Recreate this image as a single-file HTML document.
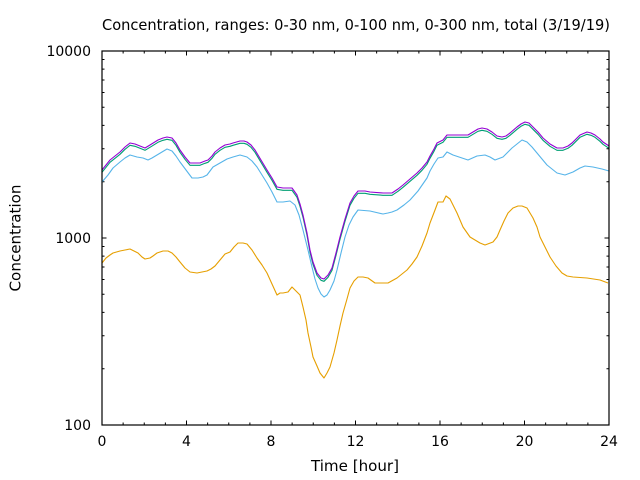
<!DOCTYPE html>
<html>
<head>
<meta charset="utf-8">
<style>
html,body{margin:0;padding:0;background:#fff;}
svg{display:block;}
text{font-family:"DejaVu Sans","Liberation Sans",sans-serif;fill:#000;}
</style>
</head>
<body>
<svg width="640" height="480" viewBox="0 0 640 480" xmlns="http://www.w3.org/2000/svg">
<rect width="640" height="480" fill="#fff"/>

<!-- title -->
<text x="356" y="30" font-size="15" text-anchor="middle" textLength="508" lengthAdjust="spacingAndGlyphs">Concentration, ranges: 0-30 nm, 0-100 nm, 0-300 nm, total (3/19/19)</text>

<!-- y label -->
<text transform="translate(20.5,238) rotate(-90)" font-size="15" text-anchor="middle" textLength="107" lengthAdjust="spacingAndGlyphs">Concentration</text>

<!-- x label -->
<text x="355" y="471" font-size="15" text-anchor="middle" textLength="88" lengthAdjust="spacingAndGlyphs">Time [hour]</text>

<!-- y tick labels -->
<g font-size="14" text-anchor="end">
<text x="91" y="56">10000</text>
<text x="91" y="243">1000</text>
<text x="91" y="430">100</text>
</g>

<!-- x tick labels -->
<g font-size="14" text-anchor="middle">
<text x="102" y="446">0</text>
<text x="186.5" y="446">4</text>
<text x="271" y="446">8</text>
<text x="355.5" y="446">12</text>
<text x="440" y="446">16</text>
<text x="524.5" y="446">20</text>
<text x="609" y="446">24</text>
</g>

<!-- ticks -->
<g stroke="#000" stroke-width="1" fill="none">
<path d="
M102 425h4.5 M102 238h4.5 M102 51h4.5
M609 425h-4.5 M609 238h-4.5 M609 51h-4.5
M102 368.71h2.5 M102 335.78h2.5 M102 312.41h2.5 M102 294.29h2.5 M102 279.49h2.5 M102 266.97h2.5 M102 256.12h2.5 M102 246.56h2.5
M102 181.71h2.5 M102 148.78h2.5 M102 125.41h2.5 M102 107.29h2.5 M102 92.49h2.5 M102 79.97h2.5 M102 69.12h2.5 M102 59.56h2.5
M609 368.71h-2.5 M609 335.78h-2.5 M609 312.41h-2.5 M609 294.29h-2.5 M609 279.49h-2.5 M609 266.97h-2.5 M609 256.12h-2.5 M609 246.56h-2.5
M609 181.71h-2.5 M609 148.78h-2.5 M609 125.41h-2.5 M609 107.29h-2.5 M609 92.49h-2.5 M609 79.97h-2.5 M609 69.12h-2.5 M609 59.56h-2.5
"/>
<path d="
M102 425v-4.5 M186.5 425v-4.5 M271 425v-4.5 M355.5 425v-4.5 M440 425v-4.5 M524.5 425v-4.5 M609 425v-4.5
M102 51v4.5 M186.5 51v4.5 M271 51v4.5 M355.5 51v4.5 M440 51v4.5 M524.5 51v4.5 M609 51v4.5
M123.13 425v-2.5 M144.25 425v-2.5 M165.38 425v-2.5 M207.63 425v-2.5 M228.75 425v-2.5 M249.88 425v-2.5
M292.13 425v-2.5 M313.25 425v-2.5 M334.38 425v-2.5 M376.63 425v-2.5 M397.75 425v-2.5 M418.88 425v-2.5
M461.13 425v-2.5 M482.25 425v-2.5 M503.38 425v-2.5 M545.63 425v-2.5 M566.75 425v-2.5 M587.88 425v-2.5
M123.13 51v2.5 M144.25 51v2.5 M165.38 51v2.5 M207.63 51v2.5 M228.75 51v2.5 M249.88 51v2.5
M292.13 51v2.5 M313.25 51v2.5 M334.38 51v2.5 M376.63 51v2.5 M397.75 51v2.5 M418.88 51v2.5
M461.13 51v2.5 M482.25 51v2.5 M503.38 51v2.5 M545.63 51v2.5 M566.75 51v2.5 M587.88 51v2.5
"/>
</g>

<!-- series -->
<g fill="none" stroke-width="1.1" stroke-linejoin="round">
<!-- orange -->
<polyline stroke="#e69f00" points="102,263 106,258 110,255 113,253 120,251 125,250 130,249 134,251 138,253 142,257 145,259 150,258 153,256 157,253 163,251 168,251 172,253 176,257 180,262 185,268 190,272 197,273 202,272 207,271 211,269 215,266 220,260 225,254 230,252 234,247 238,243 243,243 247,244 252,250 257,258 262,265 267,273 272,284 277,295 280,293 283,293 288,292 292,287 296,291 300,295 303,307 306,320 308,333 311,347 313,357 317,366 320,373 324,378 327,373 330,367 334,353 337,340 340,326 343,313 347,299 350,288 354,281 358,277 363,277 368,278 375,283 388,283 397,278 402,274 407,270 412,264 417,257 422,246 427,233 430,223 435,210 438,202 443,202 446,196 450,199 453,205 457,213 463,227 470,237 475,240 480,243 485,245 493,242 497,237 500,230 504,221 508,213 513,208 518,206 522,206 527,208 533,218 537,227 540,237 545,247 550,257 556,266 562,273 567,276 573,277 587,278 600,280 608,283"/>
<!-- light blue -->
<polyline stroke="#56b4e9" points="102,182 108,175 113,168 120,162 125,158 130,155 137,157 143,158 148,160 152,158 157,155 162,152 167,149 172,151 176,156 180,162 186,170 192,178 198,178 203,177 207,175 210,171 213,167 220,163 227,159 233,157 240,155 247,157 252,161 257,167 262,175 267,183 272,192 277,202 283,202 290,201 295,205 299,215 303,230 308,250 312,267 315,279 318,288 321,294 324,297 327,295 330,290 334,281 337,270 341,253 345,237 349,225 353,217 358,210 370,211 383,214 388,213 392,212 397,210 404,205 410,200 418,191 427,178 430,171 434,164 438,158 443,157 447,152 453,155 462,158 468,160 477,156 485,155 490,157 495,160 503,157 508,152 512,148 517,144 522,140 527,142 532,147 537,153 542,159 547,165 552,169 557,173 565,175 573,172 580,168 585,166 593,167 602,169 609,171"/>
<!-- green -->
<polyline stroke="#009e73" transform="translate(0,2.3)" points="102,170 106,165 110,160 115,156 120,152 125,147 130,143 135,144 140,146 145,148 150,145 158,140 163,138 167,137 172,138 176,143 180,150 185,157 190,163 195,163 200,163 205,161 208,160 212,156 215,152 220,148 225,145 230,144 233,143 240,141 244,141 247,142 251,145 255,150 261,160 267,170 272,178 277,187 283,188 292,188 297,195 300,204 303,215 307,233 310,250 313,262 317,273 321,278 324,279 328,275 332,268 336,253 340,237 345,219 350,203 354,196 358,191 365,191 370,192 383,193 392,193 398,189 403,185 410,179 417,173 422,168 427,162 430,156 434,149 437,143 443,140 447,135 468,135 473,132 478,129 482,128 487,129 492,132 497,136 502,137 506,136 510,133 517,127 521,124 525,122 529,123 533,127 538,132 543,138 550,144 557,148 563,148 568,146 572,143 576,139 580,135 587,132 591,133 595,135 600,139 603,142 609,146"/>
<!-- purple -->
<polyline stroke="#9400d3" points="102,170 106,165 110,160 115,156 120,152 125,147 130,143 135,144 140,146 145,148 150,145 158,140 163,138 167,137 172,138 176,143 180,150 185,157 190,163 195,163 200,163 205,161 208,160 212,156 215,152 220,148 225,145 230,144 233,143 240,141 244,141 247,142 251,145 255,150 261,160 267,170 272,178 277,187 283,188 292,188 297,195 300,204 303,215 307,233 310,250 313,262 317,273 321,278 324,279 328,275 332,268 336,253 340,237 345,219 350,203 354,196 358,191 365,191 370,192 383,193 392,193 398,189 403,185 410,179 417,173 422,168 427,162 430,156 434,149 437,143 443,140 447,135 468,135 473,132 478,129 482,128 487,129 492,132 497,136 502,137 506,136 510,133 517,127 521,124 525,122 529,123 533,127 538,132 543,138 550,144 557,148 563,148 568,146 572,143 576,139 580,135 587,132 591,133 595,135 600,139 603,142 609,146"/>
</g>

<!-- border -->
<rect x="102" y="51" width="507" height="374" fill="none" stroke="#000" stroke-width="1.2"/>
</svg>
</body>
</html>
